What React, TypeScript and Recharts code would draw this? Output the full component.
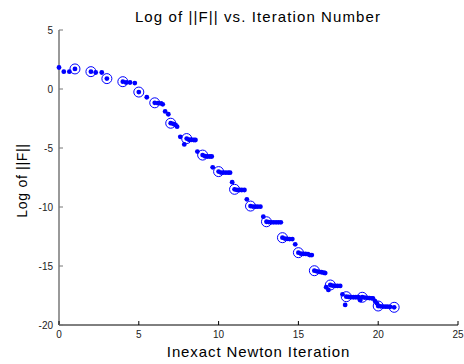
import React from "react";
import { ScatterChart, Scatter, XAxis, YAxis, Label } from "recharts";

// outer (Newton) iterations, drawn as open circles
const outerX = [1, 2, 3, 4, 5, 6, 7, 8, 9, 10, 11, 12, 13, 14, 15, 16, 17, 18, 19, 20, 21];
const outerLogF = [
  1.7, 1.47, 0.88, 0.62, -0.26, -1.17, -2.9, -4.2, -5.6, -7.0, -8.5, -9.92, -11.25, -12.6,
  -13.87, -15.4, -16.61, -17.6, -17.65, -18.39, -18.5,
];

// inner (linear solver) iterations, drawn as dots
const innerX = [
  0, 0.3, 0.65, 1,
  2, 2.3, 2.68,
  3,
  4, 4.2, 4.45, 4.75,
  5, 5.5,
  6, 6.2, 6.4, 6.5, 6.65, 6.85,
  7, 7.15, 7.3, 7.4, 7.6, 7.85,
  8, 8.15, 8.3, 8.45, 8.55, 8.67,
  9, 9.15, 9.3, 9.45, 9.57, 9.63,
  10, 10.15, 10.3, 10.45, 10.6, 10.72, 10.85,
  11, 11.15, 11.3, 11.45, 11.62, 11.77,
  12, 12.15, 12.3, 12.45, 12.62, 12.8,
  13, 13.15, 13.3, 13.45, 13.6, 13.75, 13.9,
  14, 14.15, 14.3, 14.45, 14.62, 14.8,
  15, 15.15, 15.3, 15.45, 15.6, 15.72, 15.84,
  16, 16.15, 16.3, 16.45, 16.6, 16.68, 16.74, 16.88,
  17, 17.15, 17.3, 17.45, 17.62, 17.76, 17.93,
  18, 18.15, 18.3, 18.45, 18.6, 18.77, 18.87,
  19, 19.15, 19.3, 19.45, 19.6, 19.67, 19.8, 19.92,
  20, 20.15, 20.3, 20.45, 20.6, 20.75,
  21,
];
const innerLogF = [
  1.82, 1.47, 1.47, 1.7,
  1.47, 1.4, 1.4,
  0.88,
  0.62, 0.55, 0.55, 0.5,
  -0.26, -0.7,
  -1.17, -1.2, -1.22, -1.3, -1.9, -2.14,
  -2.9, -2.95, -3.05, -3.19, -4.05, -4.7,
  -4.2, -4.3, -4.3, -4.32, -4.32, -5.3,
  -5.6, -5.7, -5.72, -5.72, -5.72, -6.64,
  -7.0, -7.08, -7.08, -7.09, -7.09, -7.09, -7.9,
  -8.5, -8.55, -8.56, -8.56, -8.56, -9.35,
  -9.92, -9.96, -9.97, -9.97, -9.97, -10.82,
  -11.25, -11.28, -11.3, -11.3, -11.3, -11.3, -11.3,
  -12.6, -12.68, -12.7, -12.72, -12.72, -13.16,
  -13.87, -13.95, -13.97, -13.98, -14.0, -14.07, -14.07,
  -15.4, -15.45, -15.5, -15.53, -15.57, -15.6, -16.8, -17.03,
  -16.61, -16.67, -16.68, -16.69, -16.69, -17.4, -18.3,
  -17.6, -17.62, -17.64, -17.65, -17.65, -17.65, -17.9,
  -17.65, -17.68, -17.7, -17.72, -17.74, -17.74, -17.97, -18.16,
  -18.39, -18.42, -18.44, -18.45, -18.45, -18.46,
  -18.5,
];

const xTicks = [0, 5, 10, 15, 20, 25];
const yTicks = [-20, -15, -10, -5, 0, 5];

const outerData = outerX.map((x, i) => ({ x, y: outerLogF[i] }));
const innerData = innerX.map((x, i) => ({ x, y: innerLogF[i] }));

const FONT = "'Liberation Sans', Arial, sans-serif";
const BLUE = "#0000ff";

const XTick = (props: any) => {
  const { x, y, payload } = props;
  return (
    <g>
      <line x1={x} y1={y} x2={x} y2={y - 4} stroke="#000" />
      <text x={x} y={y + 13} textAnchor="middle" fontSize={10} fontFamily={FONT} fill="#222">
        {payload.value}
      </text>
    </g>
  );
};

const YTick = (props: any) => {
  const { x, y, payload } = props;
  return (
    <g>
      <line x1={x} y1={y} x2={x + 4} y2={y} stroke="#777" />
      <text x={x - 6} y={y + 3.5} textAnchor="end" fontSize={10} fontFamily={FONT} fill="#222">
        {payload.value}
      </text>
    </g>
  );
};

const Dot = (props: any) => <circle cx={props.cx} cy={props.cy} r={2.4} fill={BLUE} />;
const Ring = (props: any) => (
  <circle cx={props.cx} cy={props.cy} r={5} fill="none" stroke={BLUE} strokeWidth={1} />
);

export default function App() {
  return (
    <div style={{ position: "absolute", left: 0, top: 0, width: 464, height: 364, background: "#fff" }}>
      <div
        style={{
          position: "absolute",
          left: 0,
          width: 516,
          top: 8,
          textAlign: "center",
          fontFamily: FONT,
          fontSize: 15,
          letterSpacing: 1.1,
          color: "#000",
        }}
      >
        Log of ||F|| vs. Iteration Number
      </div>
      <ScatterChart width={464} height={364} margin={{ top: 30, right: 6, bottom: 0, left: 0 }}>
        <XAxis
          type="number"
          dataKey="x"
          domain={[0, 25]}
          ticks={xTicks}
          interval={0}
          tickSize={0}
          tickMargin={0}
          tick={<XTick />}
          axisLine={{ stroke: "#000" }}
          height={39}
        >
          <Label
            content={(p: any) => (
              <text
                x={p.viewBox.x + p.viewBox.width / 2}
                y={p.viewBox.y + 32}
                textAnchor="middle"
                fontSize={15}
                letterSpacing={0.9}
                fontFamily={FONT}
                fill="#000"
              >
                Inexact Newton Iteration
              </text>
            )}
          />
        </XAxis>
        <YAxis
          type="number"
          dataKey="y"
          domain={[-20, 5]}
          ticks={yTicks}
          interval={0}
          tickSize={0}
          tickMargin={0}
          tick={<YTick />}
          axisLine={{ stroke: "#777", strokeWidth: 1.5 }}
          width={59}
        >
          <Label
            content={(p: any) => {
              const cx = 22;
              const cy = p.viewBox.y + p.viewBox.height / 2 + 3;
              return (
                <text
                  x={cx}
                  y={cy}
                  transform={`rotate(-90 ${cx} ${cy})`}
                  textAnchor="middle"
                  dominantBaseline="central"
                  fontSize={14}
                  letterSpacing={0.7}
                  fontFamily={FONT}
                  fill="#000"
                >
                  Log of ||F||
                </text>
              );
            }}
          />
        </YAxis>
        <Scatter data={innerData} shape={<Dot />} isAnimationActive={false} />
        <Scatter data={outerData} shape={<Ring />} isAnimationActive={false} />
      </ScatterChart>
    </div>
  );
}
